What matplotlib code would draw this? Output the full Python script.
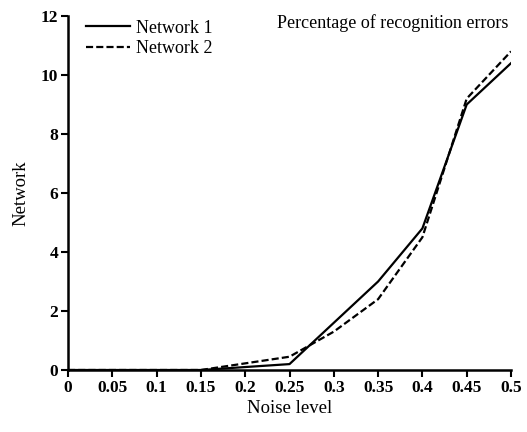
import matplotlib
matplotlib.use("Agg")
import matplotlib.pyplot as plt

noise = [0, 0.05, 0.1, 0.15, 0.25, 0.3, 0.35, 0.4, 0.45, 0.5]
net1 = [0, 0, 0, 0, 0.2, 1.6, 3.0, 4.8, 9.0, 10.4]
net2 = [0, 0, 0, 0, 0.45, 1.3, 2.4, 4.5, 9.2, 10.8]
xticks = [0, 0.05, 0.1, 0.15, 0.2, 0.25, 0.3, 0.35, 0.4, 0.45, 0.5]
xticklabels = ["0", "0.05", "0.1", "0.15", "0.2", "0.25", "0.3", "0.35", "0.4", "0.45", "0.5"]
yticks = [0, 2, 4, 6, 8, 10, 12]

plt.rcParams['font.family'] = ['Liberation Serif', 'DejaVu Serif']

fig = plt.figure(figsize=(5.27, 4.32), dpi=100)
ax = fig.add_axes([68/527, 1-370/432, (511-68)/527, (370-16)/432])

ax.plot(noise, net1, color='black', lw=1.6, linestyle='-', label='Network 1')
ax.plot(noise, net2, color='black', lw=1.6, linestyle=(0, (3.2, 1.4)), label='Network 2')

ax.set_xlim(0, 0.5)
ax.set_ylim(0, 12)
ax.set_xticks(xticks)
ax.set_xticklabels(xticklabels, fontsize=12.5, fontweight='bold')
ax.set_yticks(yticks)
ax.set_yticklabels([str(v) for v in yticks], fontsize=12.5, fontweight='bold')
ax.tick_params(direction='out', length=5, width=1.5, pad=2)
for s in ['top', 'right']:
    ax.spines[s].set_visible(False)
for s in ['left', 'bottom']:
    ax.spines[s].set_linewidth(1.8)

ax.set_xlabel('Noise level', fontsize=13.5, labelpad=3)
ax.set_ylabel('Network', fontsize=13.5, labelpad=8)

ax.legend(loc='upper left', frameon=False, fontsize=13, handlelength=2.4,
          handletextpad=0.35, bbox_to_anchor=(0.013, 1.025), labelspacing=0.2,
          borderaxespad=0.3)
ax.text(0.995, 1.005, 'Percentage of recognition errors', transform=ax.transAxes,
        ha='right', va='top', fontsize=13)

fig.savefig('out.png', dpi=100)
